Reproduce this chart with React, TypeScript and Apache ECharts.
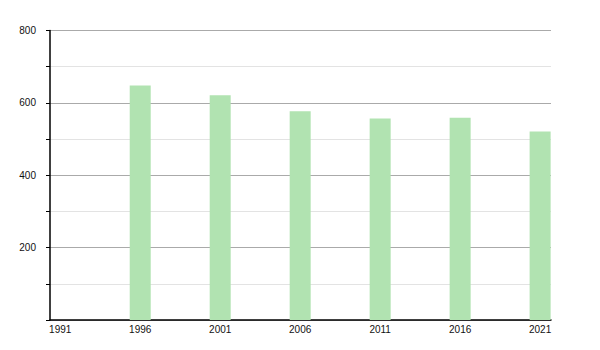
import React, { useEffect, useRef } from "react";
import * as echarts from "echarts";

const years = [1996, 2001, 2006, 2011, 2016, 2021];
const values = [648, 621, 577, 557, 559, 521];
const xTickYears = [1991, 1996, 2001, 2006, 2011, 2016, 2021];
const yLabelValues = [200, 400, 600, 800];

export default function App() {
  const ref = useRef<HTMLDivElement>(null);
  useEffect(() => {
    document.body.style.margin = "0";
    if (!ref.current) return;
    const chart = echarts.init(ref.current, null, { renderer: "svg" });
    chart.setOption({
      animation: false,
      grid: { left: 50, right: 49, top: 30.5, bottom: 30 },
      xAxis: {
        type: "value",
        min: 1990.36,
        max: 2021.68,
        axisLine: { show: true, lineStyle: { color: "#000", width: 1.5 } },
        axisTick: { show: false },
        splitLine: { show: false },
        axisLabel: {
          customValues: xTickYears,
          formatter: (v: number) => String(v),
          color: "#111",
          fontSize: 10,
          fontFamily: "Liberation Sans, Arial, sans-serif",
          margin: 4,
        },
      },
      yAxis: {
        type: "value",
        min: 0,
        max: 800,
        interval: 100,
        axisLine: { show: true, lineStyle: { color: "#000", width: 1.5 } },
        axisTick: { show: true, length: 4, lineStyle: { color: "#000" } },
        splitLine: {
          show: true,
          lineStyle: { color: ["#aaaaaa", "#e3e3e3"], width: 1 },
        },
        axisLabel: {
          color: "#111",
          fontSize: 10,
          fontFamily: "Liberation Sans, Arial, sans-serif",
          margin: 14,
          formatter: (v: number) => (yLabelValues.includes(v) ? String(v) : ""),
        },
      },
      series: [
        {
          type: "bar",
          data: years.map((y, i) => [y, values[i]]),
          barWidth: 21,
          itemStyle: { color: "#b1e3b1" },
        },
      ],
    });
    return () => chart.dispose();
  }, []);
  return <div ref={ref} style={{ width: 600, height: 350 }} />;
}
